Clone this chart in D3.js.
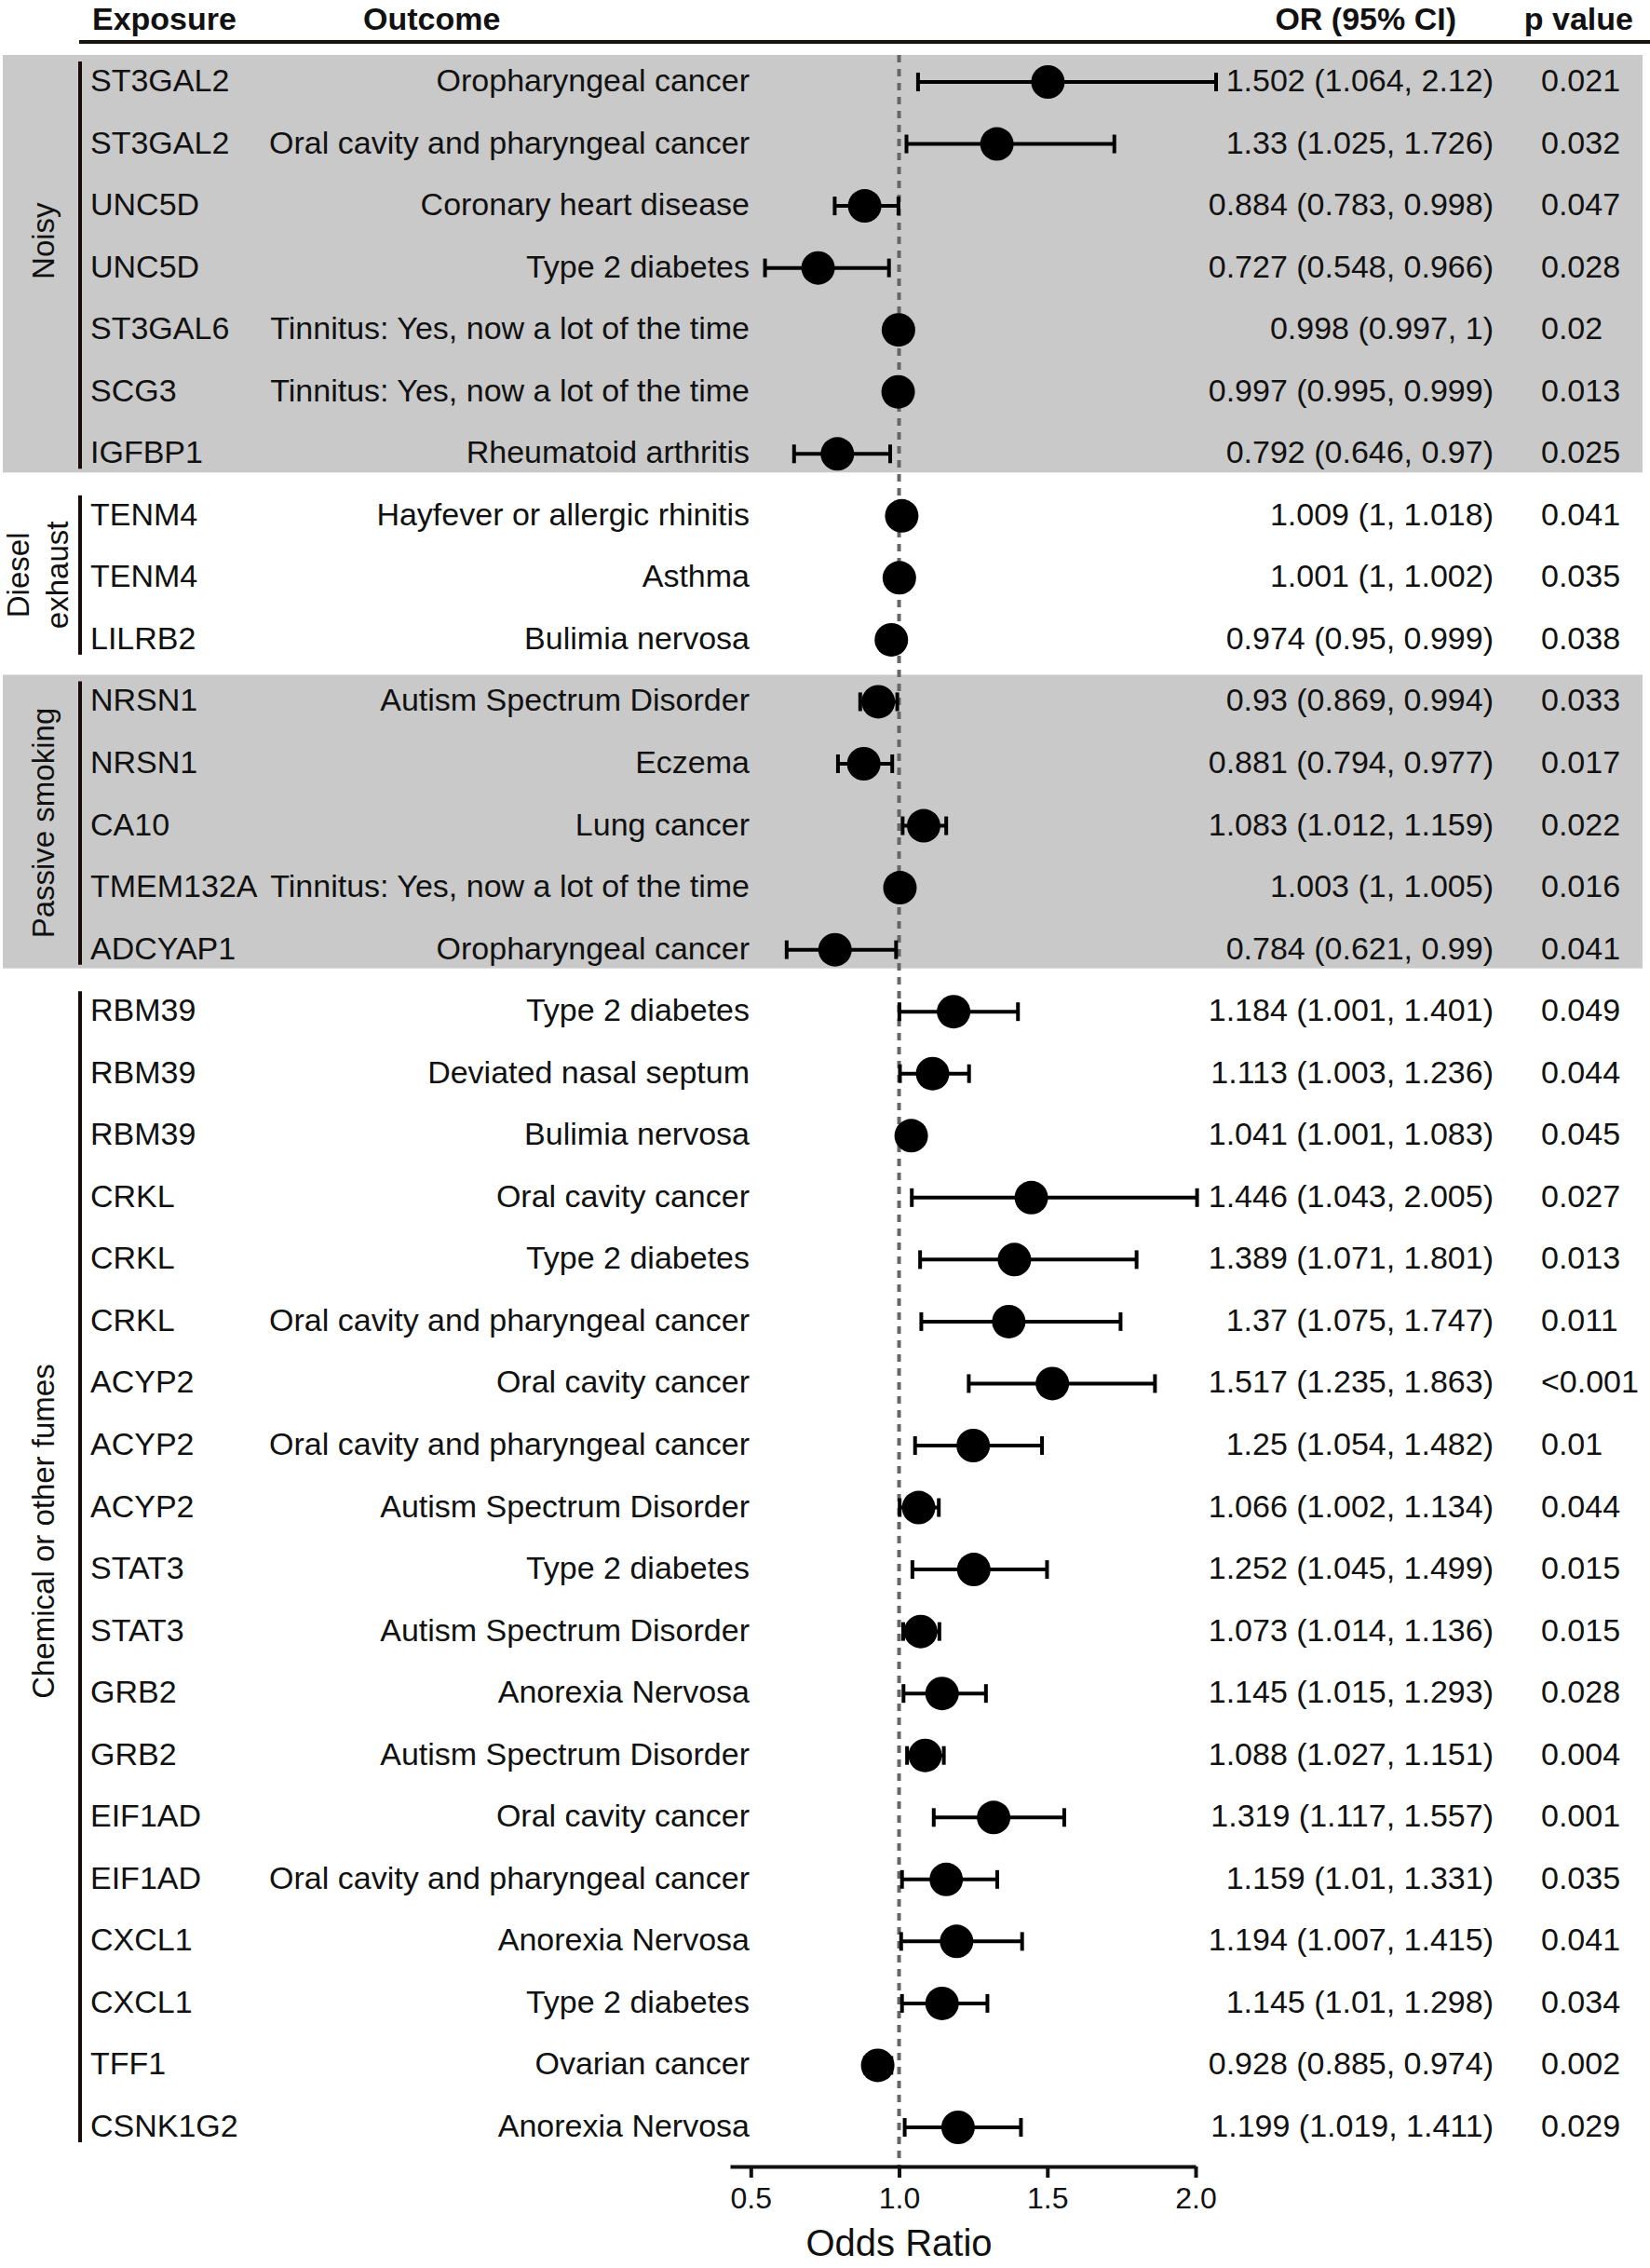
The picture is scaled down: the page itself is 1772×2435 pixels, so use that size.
<!DOCTYPE html>
<html lang="en">
<head>
<meta charset="UTF-8">
<title>forest plot</title>
<script src="https://cdn.jsdelivr.net/npm/d3@7"></script>
<style>
    body { margin: 0; background: #fff; }
    svg text { font-family: "Liberation Sans", Arial, sans-serif; fill: #111; }
    .hdr { font-weight: bold; font-size: 34px; }
    .row { font-size: 34px; }
    .grp { font-size: 33px; }
</style>
</head>
<body>
<svg id="chart" width="1772" height="2435"></svg>
<script>
// ---- data ----
let groupNames = ["Noisy", "Diesel exhaust", "Passive smoking", "Chemical or other fumes"]
let groups = [0,0,0,0,0,0,0, 1,1,1, 2,2,2,2,2,
              3,3,3,3,3,3,3,3,3,3,3,3,3,3,3,3,3,3,3]
let exposures = ["ST3GAL2","ST3GAL2","UNC5D","UNC5D","ST3GAL6","SCG3","IGFBP1",
    "TENM4","TENM4","LILRB2",
    "NRSN1","NRSN1","CA10","TMEM132A","ADCYAP1",
    "RBM39","RBM39","RBM39","CRKL","CRKL","CRKL","ACYP2","ACYP2","ACYP2",
    "STAT3","STAT3","GRB2","GRB2","EIF1AD","EIF1AD","CXCL1","CXCL1","TFF1","CSNK1G2"]
let outcomes = ["Oropharyngeal cancer","Oral cavity and pharyngeal cancer","Coronary heart disease",
    "Type 2 diabetes","Tinnitus: Yes, now a lot of the time","Tinnitus: Yes, now a lot of the time",
    "Rheumatoid arthritis",
    "Hayfever or allergic rhinitis","Asthma","Bulimia nervosa",
    "Autism Spectrum Disorder","Eczema","Lung cancer","Tinnitus: Yes, now a lot of the time",
    "Oropharyngeal cancer",
    "Type 2 diabetes","Deviated nasal septum","Bulimia nervosa","Oral cavity cancer","Type 2 diabetes",
    "Oral cavity and pharyngeal cancer","Oral cavity cancer","Oral cavity and pharyngeal cancer",
    "Autism Spectrum Disorder","Type 2 diabetes","Autism Spectrum Disorder","Anorexia Nervosa",
    "Autism Spectrum Disorder","Oral cavity cancer","Oral cavity and pharyngeal cancer",
    "Anorexia Nervosa","Type 2 diabetes","Ovarian cancer","Anorexia Nervosa"]
let orValues = [1.502,1.33,0.884,0.727,0.998,0.997,0.792,
    1.009,1.001,0.974,
    0.93,0.881,1.083,1.003,0.784,
    1.184,1.113,1.041,1.446,1.389,1.37,1.517,1.25,1.066,1.252,1.073,1.145,1.088,
    1.319,1.159,1.194,1.145,0.928,1.199]
let lowerCI = [1.064,1.025,0.783,0.548,0.997,0.995,0.646,
    1,1,0.95,
    0.869,0.794,1.012,1,0.621,
    1.001,1.003,1.001,1.043,1.071,1.075,1.235,1.054,1.002,1.045,1.014,1.015,1.027,
    1.117,1.01,1.007,1.01,0.885,1.019]
let upperCI = [2.12,1.726,0.998,0.966,1,0.999,0.97,
    1.018,1.002,0.999,
    0.994,0.977,1.159,1.005,0.99,
    1.401,1.236,1.083,2.005,1.801,1.747,1.863,1.482,1.134,1.499,1.136,1.293,1.151,
    1.557,1.331,1.415,1.298,0.974,1.411]
let pValues = ["0.021","0.032","0.047","0.028","0.02","0.013","0.025",
    "0.041","0.035","0.038",
    "0.033","0.017","0.022","0.016","0.041",
    "0.049","0.044","0.045","0.027","0.013","0.011","<0.001","0.01","0.044",
    "0.015","0.015","0.028","0.004","0.001","0.035","0.041","0.034","0.002","0.029"]
let xTicks = [0.5, 1.0, 1.5, 2.0]

// ---- layout ----
let svg = d3.select("#chart")
let n = exposures.length
let x = d3.scaleLinear().domain([0.43, 2.0]).range([784, 1284])
let y = d3.scaleLinear().domain([0, n - 1]).range([88, 2284])
let axisY = 2326
let panelRight = 1306   // bars are cut at the panel edge, as in the original
function xc(v) { return Math.min(x(v), panelRight) }

// group shading + bars
groupNames.forEach(function (g, gi) {
    let idx = d3.range(n).filter(function (i) { return groups[i] === gi })
    let first = y(idx[0]), last = y(idx[idx.length - 1])
    if (gi % 2 === 0) {
        svg.append("rect").attr("x", 3).attr("y", first - 29)
            .attr("width", 1761).attr("height", last - first + 29 + 20)
            .attr("fill", "#c9c9c9")
    }
    svg.append("line").attr("x1", 86).attr("x2", 86)
        .attr("y1", first - 22).attr("y2", last + 16)
        .attr("stroke", "#1a0a0a").attr("stroke-width", 4)

    let cy = (first - 22 + last + 16) / 2
    let shift = {0: -26, 1: 0, 2: 0, 3: -38}[gi]
    let words = gi === 1 ? ["Diesel", "exhaust"] : [g]
    let t = svg.append("text").attr("class", "grp")
        .attr("transform", "translate(" + (words.length > 1 ? 41 : 47) + "," + (cy + shift) + ") rotate(-90)")
        .attr("text-anchor", "middle")
    words.forEach(function (w, wi) {
        t.append("tspan").attr("x", 0)
            .attr("y", (wi - (words.length - 1) / 2) * 42 + 11)
            .text(w)
    })
})

// header
svg.append("text").attr("class", "hdr").attr("x", 99).attr("y", 32).text("Exposure")
svg.append("text").attr("class", "hdr").attr("x", 390).attr("y", 32).text("Outcome")
svg.append("text").attr("class", "hdr").attr("x", 1564).attr("y", 32)
    .attr("text-anchor", "end").text("OR (95% CI)")
svg.append("text").attr("class", "hdr").attr("x", 1754).attr("y", 32)
    .attr("text-anchor", "end").text("p value")
svg.append("line").attr("x1", 85).attr("x2", 1772).attr("y1", 45).attr("y2", 45)
    .attr("stroke", "#1a1410").attr("stroke-width", 4)

// reference line at OR = 1
svg.append("line").attr("x1", x(1)).attr("x2", x(1)).attr("y1", 59).attr("y2", axisY)
    .attr("stroke", "#666").attr("stroke-width", 4).attr("stroke-dasharray", "8,7")

// rows
let rows = svg.append("g").selectAll("g").data(d3.range(n)).join("g")
    .attr("transform", function (i) { return "translate(0," + y(i) + ")" })

rows.append("text").attr("class", "row").attr("x", 97).attr("y", 10)
    .text(function (i) { return exposures[i] })
rows.append("text").attr("class", "row").attr("x", 805).attr("y", 10)
    .attr("text-anchor", "end").text(function (i) { return outcomes[i] })
rows.append("text").attr("class", "row").attr("x", 1604).attr("y", 10)
    .attr("text-anchor", "end")
    .text(function (i) { return orValues[i] + " (" + lowerCI[i] + ", " + upperCI[i] + ")" })
rows.append("text").attr("class", "row").attr("x", 1655).attr("y", 10)
    .text(function (i) { return pValues[i] })

// error bars
rows.append("line").attr("x1", function (i) { return xc(lowerCI[i]) })
    .attr("x2", function (i) { return xc(upperCI[i]) })
    .attr("stroke", "#000").attr("stroke-width", 4)
rows.append("line").attr("x1", function (i) { return xc(lowerCI[i]) })
    .attr("x2", function (i) { return xc(lowerCI[i]) })
    .attr("y1", -10).attr("y2", 10).attr("stroke", "#000").attr("stroke-width", 4)
rows.append("line").attr("x1", function (i) { return xc(upperCI[i]) })
    .attr("x2", function (i) { return xc(upperCI[i]) })
    .attr("y1", -10).attr("y2", 10).attr("stroke", "#000").attr("stroke-width", 4)
rows.append("circle").attr("cx", function (i) { return x(orValues[i]) })
    .attr("r", 18).attr("fill", "#000")

// x axis
let axis = svg.append("g").attr("transform", "translate(0," + axisY + ")")
    .call(d3.axisBottom(x).tickValues(xTicks).tickFormat(d3.format(".1f"))
        .tickSize(12).tickSizeOuter(0).tickPadding(10))
axis.select(".domain").attr("stroke", "#111").attr("stroke-width", 4)
axis.selectAll(".tick line").attr("stroke", "#111").attr("stroke-width", 4)
axis.selectAll(".tick text").attr("font-size", 32)
    .attr("font-family", "Liberation Sans, Arial, sans-serif").attr("fill", "#111")

svg.append("text").attr("x", x(1)).attr("y", 2422).attr("text-anchor", "middle")
    .attr("font-size", 40).text("Odds Ratio")
</script>
</body>
</html>
